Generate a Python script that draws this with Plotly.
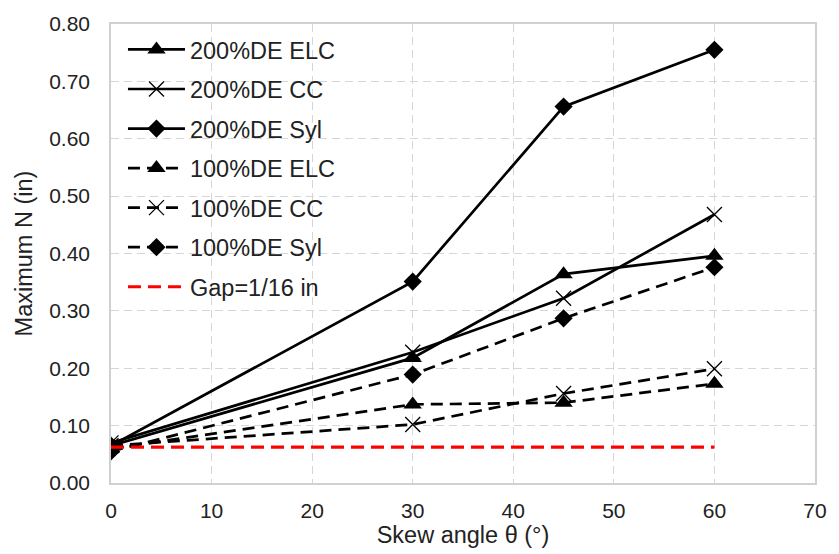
import plotly.graph_objects as go

angles = [0, 30, 45, 60]
de200_elc = [0.065, 0.218, 0.364, 0.396]
de200_cc = [0.070, 0.228, 0.322, 0.468]
de200_syl = [0.065, 0.351, 0.656, 0.755]
de100_elc = [0.060, 0.137, 0.140, 0.173]
de100_cc = [0.065, 0.102, 0.156, 0.199]
de100_syl = [0.055, 0.189, 0.287, 0.376]
gap_x = [0, 60]
gap_y = [0.0625, 0.0625]

series = [
    ("200%DE ELC", de200_elc, "solid", "triangle-up"),
    ("200%DE CC", de200_cc, "solid", "x-thin"),
    ("200%DE Syl", de200_syl, "solid", "diamond"),
    ("100%DE ELC", de100_elc, "12px,7px", "triangle-up"),
    ("100%DE CC", de100_cc, "12px,7px", "x-thin"),
    ("100%DE Syl", de100_syl, "12px,7px", "diamond"),
]
sizes = {"triangle-up": 16, "x-thin": 15, "diamond": 14}

fig = go.Figure()
for i, (name, ys, dash, sym) in enumerate(series):
    thin = sym == "x-thin"
    fig.add_trace(go.Scatter(
        x=angles, y=ys, name=name, mode="lines+markers",
        legendgroup=f"g{i}",
        line=dict(color="black", width=2.7, dash=dash),
        marker=dict(symbol=sym, size=sizes[sym], color="black",
                    line=dict(color="black", width=1.3 if thin else 0)),
    ))
fig.add_trace(go.Scatter(
    x=gap_x, y=gap_y, name="Gap=1/16 in", mode="lines", legendgroup="gap",
    line=dict(color="#ff0000", width=3.2, dash="13px,7px"),
))

axis_common = dict(
    showline=True, linecolor="#d0d0d0", linewidth=1.5, mirror=True,
    showgrid=True, gridcolor="#d6d6d6", griddash="8px,5px", gridwidth=1.3,
    zeroline=False, ticks="", tickfont=dict(size=21, color="#222"),
    title_font=dict(size=23.5, color="#222"),
)

fig.update_layout(
    width=839, height=554,
    margin=dict(l=111, r=14, t=21, b=71),
    paper_bgcolor="white", plot_bgcolor="white",
    font=dict(family="Liberation Sans, Arial, sans-serif", color="#222"),
    xaxis=dict(range=[0, 70], dtick=10, ticklabelstandoff=8,
               title=dict(text="Skew angle θ (°)", standoff=2), **axis_common),
    yaxis=dict(range=[0, 0.8], dtick=0.1, tickformat=".2f", ticklabelstandoff=15,
               title=dict(text="Maximum N (in)", standoff=10), **axis_common),
    showlegend=True,
    legend=dict(x=0.017, y=0.992, xanchor="left", yanchor="top", bgcolor="rgba(255,255,255,0)",
                font=dict(size=23.5, color="#222"), tracegroupgap=6, itemwidth=57),
)

fig.write_html("out.html")
